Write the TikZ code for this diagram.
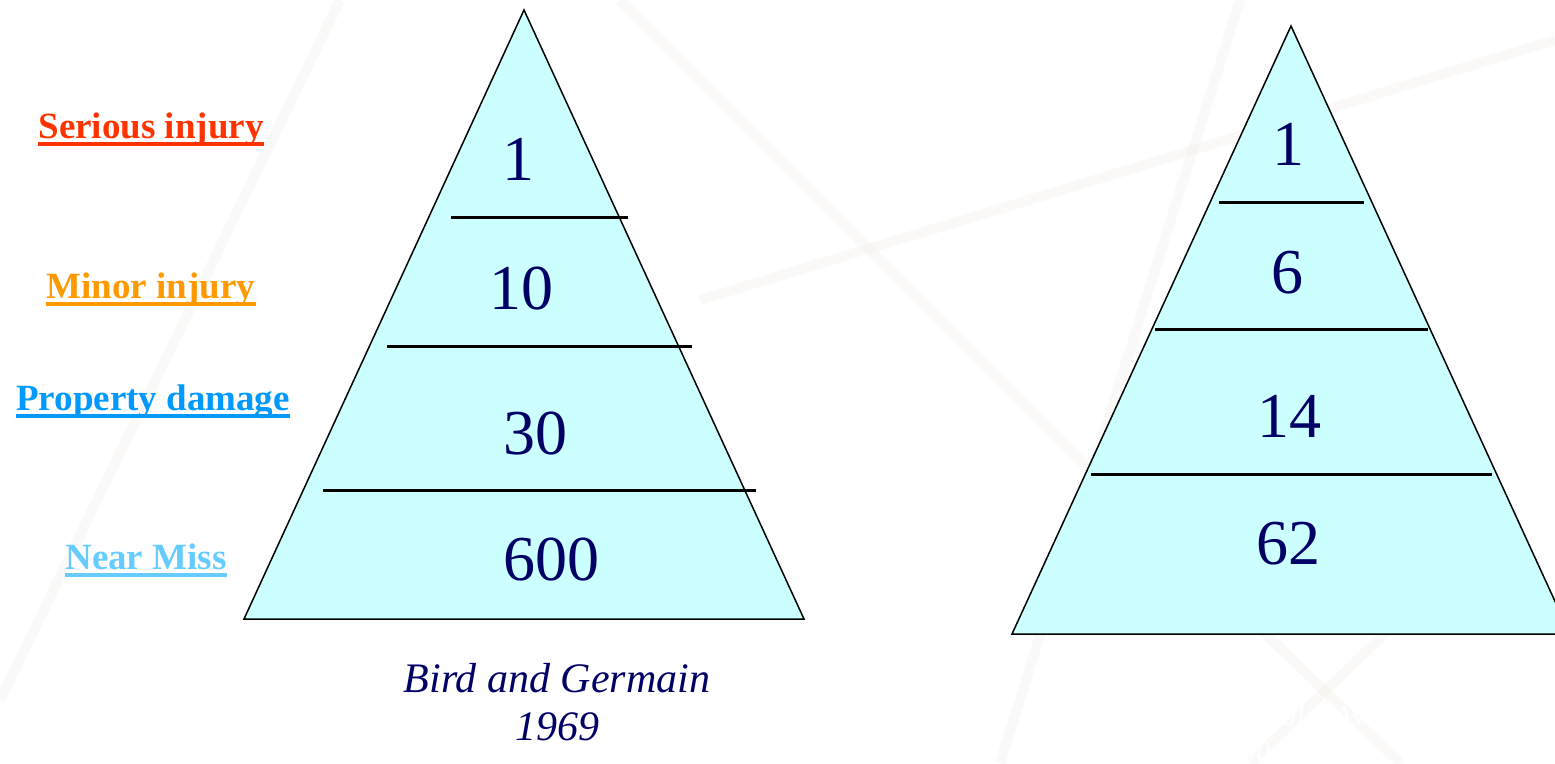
\documentclass[tikz,border=0pt]{standalone}
\usepackage{fontspec}
\setmainfont{Liberation Serif}
\definecolor{fillc}{HTML}{CCFFFF}
\definecolor{navy}{HTML}{000066}
\definecolor{serc}{HTML}{FF3300}
\definecolor{minc}{HTML}{FF9900}
\definecolor{proc}{HTML}{0099FF}
\definecolor{nearc}{HTML}{66CCFF}
\definecolor{wm}{HTML}{E8DFD2}
\tikzset{
  pyr/.style={draw=black, line width=1.5pt, fill=fillc},
  divline/.style={draw=black, line width=3pt},
  num/.style={text=navy, font=\fontsize{64}{68}\selectfont, anchor=base, inner sep=0pt},
  lab/.style={font=\fontsize{37}{40}\selectfont\bfseries, anchor=base, inner sep=0pt},
  uline/.style={line width=3.5pt},
  captext/.style={text=navy, font=\fontsize{42}{46}\selectfont\itshape, anchor=base, inner sep=0pt},
  ghost/.style={text=white, font=\fontsize{28}{30}\selectfont\itshape, anchor=base west, inner sep=0pt},
  wmline/.style={draw=wm, line width=10pt, opacity=0.18}
}
\begin{document}
\begin{tikzpicture}[x=1pt,y=-1pt]
\useasboundingbox (0,0) rectangle (1555,763);
\clip (0,0) rectangle (1555,763);
% faint watermark
\draw[wmline] (340,0) -- (0,700);
\draw[wmline] (620,0) -- (1180,560);
\draw[wmline] (1240,0) -- (1000,763);
\draw[wmline] (700,300) -- (1555,40);
\draw[wmline] (1230,600) -- (1400,763);
\draw[wmline] (1420,600) -- (1250,763);
% left pyramid
\coordinate (LA) at (524,10);
\coordinate (LB) at (244,619);
\coordinate (LC) at (804,619);
\path[pyr] (LA) -- (LB) -- (LC) -- cycle;
\coordinate (l1a) at (451,217); \coordinate (l1b) at (628,217);
\coordinate (l2a) at (387,346); \coordinate (l2b) at (692,346);
\coordinate (l3a) at (323,490); \coordinate (l3b) at (756,490);
\draw[divline] (l1a) -- (l1b);
\draw[divline] (l2a) -- (l2b);
\draw[divline] (l3a) -- (l3b);
\node[num] (n1) at (518,180) {1};
\node[num] (n10) at (521,309) {10};
\node[num] (n30) at (535,454) {30};
\node[num] (n600) at (551,580) {600};
% right pyramid
\coordinate (RA) at (1291,26);
\coordinate (RB) at (1012,634);
\coordinate (RC) at (1570,634);
\path[pyr] (RA) -- (RB) -- (RC) -- cycle;
\coordinate (r1a) at (1219,202); \coordinate (r1b) at (1364,202);
\coordinate (r2a) at (1155,329); \coordinate (r2b) at (1428,329);
\coordinate (r3a) at (1091,474); \coordinate (r3b) at (1492,474);
\draw[divline] (r1a) -- (r1b);
\draw[divline] (r2a) -- (r2b);
\draw[divline] (r3a) -- (r3b);
\node[num] (m1) at (1288,165) {1};
\node[num] (m6) at (1287,293) {6};
\node[num] (m14) at (1289,437) {14};
\node[num] (m62) at (1288,564) {62};
% labels
\node[lab, text=serc] (ser) at (151,138) {Serious injury};
\draw[uline, serc] ([yshift=-6pt]ser.base west) -- ([yshift=-6pt]ser.base east);
\node[lab, text=minc] (min) at (151,298) {Minor injury};
\draw[uline, minc] ([yshift=-6pt]min.base west) -- ([yshift=-6pt]min.base east);
\node[lab, text=proc] (pro) at (153,410) {Property damage};
\draw[uline, proc] ([yshift=-6pt]pro.base west) -- ([yshift=-6pt]pro.base east);
\node[lab, text=nearc] (near) at (146,569) {Near Miss};
\draw[uline, nearc] ([yshift=-6pt]near.base west) -- ([yshift=-6pt]near.base east);
% caption
\node[captext] (cap1) at (557,692) {Bird and Germain};
\node[captext] (cap2) at (557,740) {1969};
% ghost text
\node[ghost] (g1) at (1222,725) {Australia/Asia};
\node[ghost] (g2) at (1228,760) {2004/2005};
\end{tikzpicture}
\end{document}
